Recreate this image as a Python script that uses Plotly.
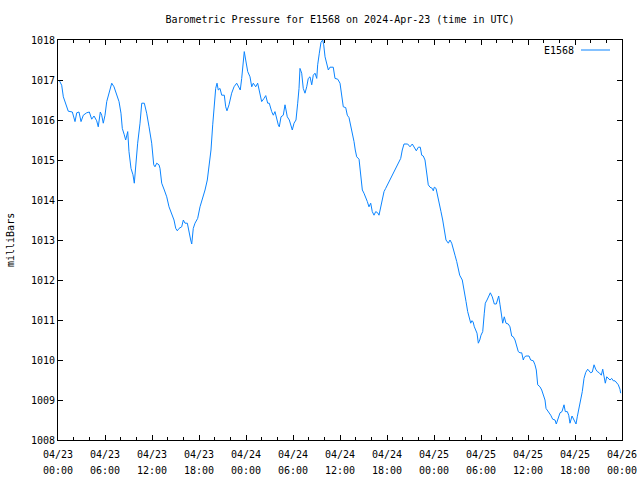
import pandas as pd
import plotly.graph_objects as go

# hours since 2024-04-23 00:00 UTC
hours = [
    0.13, 0.47, 0.68, 0.89, 1.11, 1.31, 1.83, 2.17, 2.39, 2.68, 2.94, 3.23, 3.66, 4.0, 4.30, 4.60,
    4.94, 5.14, 5.40, 5.58, 5.78, 6.0, 6.22, 6.51, 6.86, 7.15, 7.49, 7.79, 8.04, 8.21, 8.46, 8.64,
    8.90, 9.06, 9.32, 9.57, 9.74, 9.92, 10.17, 10.47, 10.69, 11.02, 11.32, 11.62, 11.96, 12.22,
    12.38, 12.60, 12.89, 13.02, 13.24, 13.57, 13.88, 14.17, 14.51, 14.81, 15.03, 15.23, 15.45,
    15.79, 16.0, 16.21, 16.51, 16.72, 16.94, 17.07, 17.27, 17.49, 17.83, 18.13, 18.42, 18.77,
    19.06, 19.28, 19.53, 19.75, 19.91, 20.13, 20.30, 20.46, 20.68, 20.90, 21.23, 21.41, 21.57,
    21.83, 22.17, 22.47, 22.81, 23.11, 23.27, 23.45, 23.66, 23.78, 23.96, 24.22, 24.51, 24.73,
    24.93, 25.24, 25.49, 25.75, 26.0, 26.30, 26.52, 26.77, 26.97, 27.28, 27.49, 27.70, 27.92,
    28.12, 28.25, 28.47, 28.76, 28.98, 29.11, 29.27, 29.53, 29.74, 29.91, 30.13, 30.38, 30.60,
    30.77, 30.89, 31.11, 31.31, 31.53, 31.75, 31.95, 32.17, 32.39, 32.59, 32.81, 33.03, 33.15,
    33.36, 33.57, 33.79, 33.92, 34.09, 34.30, 34.51, 34.72, 35.14, 35.36, 35.71, 36.0, 36.22,
    36.42, 36.73, 36.93, 37.15, 37.37, 37.57, 37.79, 37.95, 38.13, 38.43, 38.64, 38.85, 39.06,
    39.28, 39.49, 39.70, 39.92, 40.12, 40.34, 40.56, 40.81, 40.98, 41.20, 41.40, 41.62, 41.83,
    42.17, 42.60, 43.02, 43.44, 43.75, 43.95, 44.17, 44.64, 44.94, 45.23, 45.48, 45.74, 46.0,
    46.25, 46.43, 46.63, 46.85, 47.07, 47.27, 47.49, 47.78, 47.91, 48.04, 48.26, 48.47, 48.68,
    48.89, 49.11, 49.31, 49.53, 49.83, 50.04, 50.26, 50.46, 50.68, 50.90, 51.10, 51.28, 51.61,
    51.87, 52.09, 52.30, 52.51, 52.69, 52.82, 52.98, 53.15, 53.32, 53.49, 53.66, 53.84, 54.0,
    54.22, 54.42, 54.55, 54.77, 54.93, 55.19, 55.44, 55.70, 55.95, 56.13, 56.26, 56.43, 56.64,
    56.77, 56.97, 57.19, 57.48, 57.70, 57.92, 58.12, 58.34, 58.56, 58.76, 58.98, 59.20, 59.40,
    59.53, 59.74, 60.13, 60.34, 60.68, 60.89, 61.06, 61.24, 61.53, 61.75, 61.95, 62.17, 62.30,
    62.59, 62.90, 63.15, 63.45, 63.61, 63.87, 64.09, 64.34, 64.60, 64.76, 65.02, 65.20, 65.36,
    65.62, 65.78, 66.0, 66.13, 66.29, 66.51, 66.73, 66.93, 67.15, 67.37, 67.62, 67.83, 68.0,
    68.21, 68.43, 68.64, 68.85, 69.10, 69.36, 69.54, 69.70, 69.87, 70.05, 70.25, 70.47, 70.68,
    70.89, 71.11, 71.32, 71.53, 71.74, 71.83,
]

pressure = [
    1017.0, 1016.87, 1016.58, 1016.46, 1016.33, 1016.22, 1016.2, 1015.96, 1016.18, 1016.2, 1015.96,
    1016.12, 1016.18, 1016.2, 1016.02, 1016.1, 1015.98, 1015.83, 1016.2, 1016.12, 1015.92, 1016.12,
    1016.46, 1016.67, 1016.92, 1016.83, 1016.65, 1016.46, 1016.17, 1015.79, 1015.63, 1015.5,
    1015.71, 1015.21, 1014.79, 1014.63, 1014.42, 1014.92, 1015.42, 1015.92, 1016.42, 1016.42,
    1016.17, 1015.83, 1015.42, 1014.88, 1014.83, 1014.92, 1014.88, 1014.79, 1014.42, 1014.25,
    1014.08, 1013.83, 1013.67, 1013.5, 1013.29, 1013.23, 1013.29, 1013.33, 1013.5, 1013.42,
    1013.42, 1013.17, 1013.0, 1012.9, 1013.29, 1013.42, 1013.54, 1013.83, 1014.0, 1014.25,
    1014.5, 1014.83, 1015.25, 1015.88, 1016.33, 1016.79, 1016.92, 1016.75, 1016.79, 1016.62,
    1016.62, 1016.33, 1016.23, 1016.38, 1016.67, 1016.83, 1016.92, 1016.83, 1016.75, 1017.04,
    1017.58, 1017.71, 1017.5, 1017.21, 1017.08, 1016.83, 1016.92, 1016.83, 1016.92, 1016.67,
    1016.46, 1016.54, 1016.61, 1016.42, 1016.42, 1016.21, 1016.12, 1016.21, 1016.0, 1015.88,
    1015.83, 1016.08, 1016.12, 1016.38, 1016.25, 1016.08, 1016.0, 1015.88, 1015.75, 1015.92,
    1016.0, 1016.42, 1016.79, 1017.29, 1017.17, 1016.79, 1016.67, 1016.83, 1017.04, 1017.08,
    1016.88, 1017.12, 1017.17, 1017.04, 1017.38, 1017.67, 1017.94, 1018.0, 1017.88, 1017.58,
    1017.38, 1017.25, 1017.32, 1017.32, 1017.04, 1017.02, 1016.92, 1016.58, 1016.33, 1016.31,
    1016.12, 1016.06, 1015.88, 1015.71, 1015.46, 1015.25, 1015.08, 1015.02, 1014.67, 1014.25,
    1014.17, 1014.08, 1013.96, 1013.83, 1013.92, 1013.71, 1013.62, 1013.71, 1013.68, 1013.62,
    1013.83, 1014.0, 1014.21, 1014.29, 1014.42, 1014.58, 1014.75, 1014.92, 1015.04, 1015.25,
    1015.4, 1015.4, 1015.33, 1015.4, 1015.32, 1015.23, 1015.32, 1015.32, 1015.12, 1015.1,
    1015.0, 1014.67, 1014.38, 1014.32, 1014.29, 1014.23, 1014.32, 1014.29, 1014.12, 1013.92,
    1013.71, 1013.5, 1013.25, 1013.0, 1012.92, 1013.0, 1012.92, 1012.75, 1012.62, 1012.46,
    1012.29, 1012.12, 1012.0, 1011.75, 1011.46, 1011.21, 1011.04, 1010.92, 1010.98, 1010.96,
    1010.83, 1010.75, 1010.67, 1010.42, 1010.5, 1010.62, 1010.71, 1011.17, 1011.42, 1011.5,
    1011.58, 1011.68, 1011.58, 1011.4, 1011.4, 1011.54, 1011.6, 1011.38, 1011.04, 1010.92,
    1011.08, 1010.92, 1010.9, 1010.83, 1010.6, 1010.58, 1010.5, 1010.33, 1010.21, 1010.18,
    1010.18, 1010.0, 1010.07, 1010.1, 1010.1, 1010.0, 1009.98, 1009.88, 1009.75, 1009.38,
    1009.33, 1009.25, 1009.1, 1009.0, 1008.79, 1008.71, 1008.62, 1008.52, 1008.5, 1008.4,
    1008.58, 1008.68, 1008.71, 1008.88, 1008.71, 1008.71, 1008.62, 1008.42, 1008.6, 1008.54,
    1008.46, 1008.4, 1008.58, 1008.79, 1008.96, 1009.21, 1009.54, 1009.69, 1009.77, 1009.73,
    1009.68, 1009.7, 1009.88, 1009.77, 1009.71, 1009.68, 1009.62, 1009.77, 1009.62, 1009.42,
    1009.58, 1009.54, 1009.5, 1009.54, 1009.48, 1009.48, 1009.43, 1009.38, 1009.27, 1009.17,
]

series_name = "E1568"
x_tick_hours = [0, 6, 12, 18, 24, 30, 36, 42, 48, 54, 60, 66, 72]
x_tick_dates = ["04/23", "04/23", "04/23", "04/23", "04/24", "04/24", "04/24",
                "04/24", "04/25", "04/25", "04/25", "04/25", "04/26"]
x_tick_clock = ["00:00", "06:00", "12:00", "18:00", "00:00", "06:00", "12:00",
                "18:00", "00:00", "06:00", "12:00", "18:00", "00:00"]
y_ticks = [1008, 1009, 1010, 1011, 1012, 1013, 1014, 1015, 1016, 1017, 1018]

start = pd.Timestamp("2024-04-23 00:00")
times = start + pd.to_timedelta(hours, unit="h")
tick_times = list(start + pd.to_timedelta(x_tick_hours, unit="h"))

FONT = "DejaVu Sans Mono"
LINE_COLOR = "#0a84ff"
tfont = dict(family=FONT, size=10, color="black")

fig = go.Figure()
fig.add_trace(go.Scatter(
    x=times, y=pressure, mode="lines", name=series_name,
    line=dict(color=LINE_COLOR, width=1), showlegend=False,
))

fig.update_layout(
    width=640, height=480,
    margin=dict(l=58, r=18, t=40, b=40),
    paper_bgcolor="white", plot_bgcolor="white",
    font=tfont,
    title=dict(text="Barometric Pressure for E1568 on 2024-Apr-23 (time in UTC)",
               x=0.5, xref="paper", xanchor="center", y=1 - 19 / 480, yanchor="middle",
               font=tfont),
    xaxis=dict(
        type="date", automargin=False,
        range=[tick_times[0], tick_times[-1]],
        tickvals=tick_times, ticktext=x_tick_dates,
        showgrid=False, zeroline=False,
        showline=True, linecolor="black", linewidth=1, mirror="ticks",
        ticks="inside", ticklen=5, tickcolor="black", tickwidth=1,
        minor=dict(ticks="inside", dtick=2 * 3600 * 1000, ticklen=3,
                   tickcolor="black", tick0=tick_times[0]),
        tickfont=tfont, ticklabelstandoff=5,
    ),
    xaxis2=dict(
        type="date", automargin=False, overlaying="x", anchor="y", side="bottom",
        range=[tick_times[0], tick_times[-1]],
        tickvals=tick_times, ticktext=x_tick_clock,
        showgrid=False, zeroline=False, showline=False, ticks="",
        tickfont=tfont, ticklabelstandoff=23,
    ),
    yaxis=dict(
        automargin=False,
        range=[1008, 1018],
        tickvals=y_ticks, ticktext=[str(v) for v in y_ticks],
        showgrid=False, zeroline=False,
        showline=True, linecolor="black", linewidth=1, mirror="ticks",
        ticks="inside", ticklen=5, tickcolor="black", tickwidth=1,
        tickfont=tfont,
    ),
)
# empty trace to keep the secondary time-label axis active
fig.add_trace(go.Scatter(x=[tick_times[0]], y=[None], xaxis="x2", yaxis="y",
                         showlegend=False, hoverinfo="skip"))

fig.add_annotation(
    text="milliBars", textangle=-90, xref="paper", yref="paper",
    x=(10 - 58) / 564, y=0.5, xanchor="center", yanchor="middle", showarrow=False,
    font=tfont,
)
# legend (gnuplot style: text then line sample)
fig.add_annotation(
    text=series_name, xref="paper", yref="paper",
    x=(576 - 58) / 564, y=(440 - 50) / 400, xanchor="right", yanchor="middle", showarrow=False,
    font=tfont,
)
fig.add_shape(type="line", xref="paper", yref="paper",
              x0=(581 - 58) / 564, x1=(610 - 58) / 564,
              y0=(440 - 50) / 400, y1=(440 - 50) / 400,
              line=dict(color=LINE_COLOR, width=1))

fig.write_html("out.html")
